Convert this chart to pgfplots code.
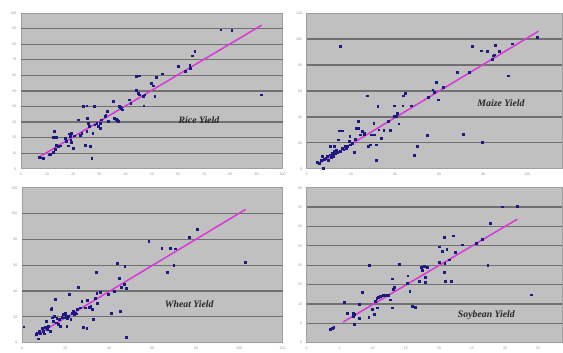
\documentclass[border=0pt]{standalone}
\usepackage{pgfplots}
\pgfplotsset{compat=1.18}
\usepackage{fontspec}
\setmainfont{Liberation Serif}
\newfontfamily\tickfont{Liberation Sans}
\definecolor{bgray}{HTML}{C0C0C0}
\definecolor{gridc}{HTML}{707070}
\definecolor{mk}{HTML}{1A1A80}
\definecolor{trend}{HTML}{D838D8}
\pgfplotsset{
  panel/.style={
    scale only axis, anchor=south west,
    axis background/.style={fill=bgray},
    axis line style={draw=gray!75, line width=0.9pt},
    major tick length=0pt,
    /pgf/number format/assume math mode=true,
    tick label style={font=\tickfont\fontsize{3.6}{4}\selectfont, text=gray!80},
    xticklabel style={yshift=-0.5pt},
    yticklabel style={xshift=-1pt},
    clip=false,
  },
  pts/.style={only marks, mark=square*, mark size=0.9pt, mark options={fill=mk, draw=mk}},
  tl/.style={draw=trend, line width=1.5pt, no marks},
}
\tikzset{lab/.style={font=\fontsize{9.8}{11}\selectfont\bfseries\itshape, text=black!85},
  gl/.style={draw=gridc, line width=1.3pt}}
\begin{document}
\begin{tikzpicture}[x=1pt,y=1pt]
\path (0,0) rectangle (563,349);
% Rice
\begin{axis}[panel, at={(21pt,180pt)}, width=262pt, height=156pt,
  xmin=0, xmax=100, ymin=0, ymax=100, xtick={0,10,...,100}, ytick={0,10,...,100}]
\pgfplotsinvokeforeach{10,20,30,40,50,60,70,80,90}{\draw[gl] (axis cs:0,#1) -- (axis cs:100,#1);}
\addplot[pts] coordinates {
(7.0,7.7) (7.9,7.1) (8.5,6.9) (10.8,9.0) (11.1,9.6) (12.3,10.5) (12.6,24.0) (12.3,20.3) (13.6,20.3)
(13.0,12.6) (13.4,15.4) (14.2,14.3) (14.9,14.8) (16.8,19.7) (17.4,17.6) (18.1,14.8) (18.5,22.5)
(18.7,20.8) (19.1,22.9) (19.0,18.6) (19.3,16.9) (20.0,13.3) (20.2,21.2) (21.9,31.5) (22.5,21.8)
(23.2,22.9) (23.8,40.0) (24.4,15.4) (25.1,40.5) (25.1,24.0) (25.3,32.5) (25.7,29.3) (26.1,27.2)
(26.3,14.3) (27.0,6.9) (27.4,22.9) (28.0,40.0) (28.2,28.3) (28.9,29.3) (29.5,27.2) (30.2,26.1)
(30.4,29.3) (30.8,31.5) (32.1,33.6) (32.4,34.7) (33.0,36.8) (33.3,30.4) (35.2,43.3) (35.5,32.5)
(36.3,31.9) (36.8,31.0) (37.2,30.4) (37.5,40.0) (38.0,39.6) (38.4,39.0) (38.8,37.9) (41.3,44.3)
(41.9,42.2) (43.9,59.3) (45.2,59.7) (44.1,50.7) (44.8,48.6) (45.2,47.5) (46.7,46.5) (46.9,40.5)
(47.3,47.5) (49.9,55.0) (50.5,53.3) (51.1,46.5) (51.8,58.9) (54.1,61.0) (60.1,65.7) (62.6,62.5)
(64.5,66.4) (64.8,64.7) (65.5,72.6) (66.4,75.4) (76.3,89.3) (80.5,88.9) (91.9,47.5)
};
\addplot[tl] coordinates {(7,7.6) (92,92.2)};
\node[lab] at (axis cs:68,31) {Rice Yield};
\end{axis}
% Maize
\begin{axis}[panel, at={(307pt,180pt)}, width=256pt, height=156pt,
  xmin=0, xmax=115.8, ymin=0, ymax=120, xtick={0,20,...,100}, ytick={0,20,...,120}]
\pgfplotsinvokeforeach{20,40,60,80,100}{\draw[gl] (axis cs:0,#1) -- (axis cs:115.8,#1);}
\addplot[pts] coordinates {
(4.8,5.1) (5.6,4.4) (6.6,6.9) (7.4,0.5) (7.1,9.5) (7.8,7.5) (8.6,8.2) (9.3,9.5) (9.6,6.9)
(10.5,10.8) (10.8,17.2) (11.1,9.0) (11.6,12.1) (12.0,10.0) (12.3,17.2) (12.6,13.4) (13.1,11.6)
(13.5,14.7) (13.8,12.6) (14.3,22.4) (14.6,29.3) (15.3,94.3) (15.3,13.4) (16.0,29.3) (16.0,15.9)
(16.8,14.7) (17.3,17.2) (18.0,15.9) (18.6,17.7) (19.1,21.1) (19.5,24.9) (19.8,18.5) (20.6,19.8)
(21.7,12.6) (22.1,22.9) (22.4,31.4) (23.3,36.5) (23.6,31.4) (24.4,26.2) (25.1,28.8) (25.9,26.2)
(26.2,27.5) (27.4,56.3) (27.7,17.2) (28.6,18.5) (29.2,26.2) (30.4,35.2) (30.7,26.2) (31.6,18.5)
(31.6,6.9) (32.2,48.1) (32.6,30.1) (33.7,23.7) (34.9,29.6) (37.1,36.5) (37.9,29.6) (39.4,40.4)
(39.8,48.6) (40.6,40.4) (40.9,42.9) (41.7,34.7) (43.6,56.3) (43.5,48.6) (44.7,58.4) (47.2,48.6)
(48.7,10.5) (49.9,17.2) (54.7,25.7) (55.2,55.0) (57.1,60.9) (57.7,58.9) (58.5,66.8) (59.5,53.2)
(61.9,63.0) (68.0,74.3) (71.0,26.7) (73.5,74.3) (75.0,94.3) (79.2,91.0) (79.4,20.3) (81.8,90.5)
(83.9,84.6) (84.5,87.1) (84.8,87.9) (85.3,94.9) (87.1,90.5) (91.3,71.7) (93.2,96.4) (104.5,101.3)
};
\addplot[tl] coordinates {(6,4.5) (105,106)};
\node[lab] at (axis cs:88,50.6) {Maize Yield};
\end{axis}
% Wheat
\begin{axis}[panel, at={(22pt,6pt)}, width=261pt, height=155pt,
  xmin=0, xmax=120, ymin=0, ymax=120, xtick={0,20,...,120}, ytick={0,20,...,120}]
\pgfplotsinvokeforeach{20,40,60,80,100}{\draw[gl] (axis cs:0,#1) -- (axis cs:120,#1);}
\addplot[pts] coordinates {
(0.8,12.3) (6.4,6.4) (6.9,7.7) (7.6,3.1) (8.1,9.0) (8.4,6.9) (9.2,11.1) (9.6,9.0) (10.2,6.9)
(10.7,12.1) (11.1,16.7) (11.5,10.3) (12.2,12.9) (13.0,9.0) (13.3,25.7) (13.7,26.5) (14.0,19.3)
(14.5,16.7) (14.8,20.6) (15.3,33.4) (15.7,15.4) (16.0,18.8) (16.8,14.1) (17.3,18.0) (17.6,12.9)
(18.3,19.8) (18.8,21.9) (19.4,19.3) (19.8,23.1) (20.3,20.6) (20.6,12.9) (20.9,18.8) (21.4,20.6)
(21.8,37.3) (22.4,18.0) (22.9,23.1) (23.4,24.4) (24.0,21.9) (24.4,23.1) (24.9,22.4) (25.5,25.7)
(26.0,42.9) (26.7,27.0) (27.5,32.1) (28.2,12.1) (29.0,27.0) (29.8,11.1) (30.1,32.6) (31.0,27.5)
(31.6,28.3) (32.5,25.7) (32.8,18.0) (33.6,34.7) (34.1,54.5) (34.4,38.6) (34.7,30.8) (35.9,39.1)
(39.7,37.8) (40.9,23.1) (42.3,39.8) (44.0,61.7) (44.7,50.1) (45.3,24.4) (45.8,42.9) (46.9,45.0)
(47.3,59.1) (47.8,3.9) (47.8,42.4) (58.3,78.9) (64.3,73.3) (67.0,54.5) (68.3,73.3) (69.8,59.9)
(70.7,72.8) (77.1,81.5) (80.5,87.9) (102.6,62.2)
};
\addplot[tl] coordinates {(6,5.1) (103,103.3)};
\node[lab] at (axis cs:77,29.6) {Wheat Yield};
\end{axis}
% Soybean
\begin{axis}[panel, at={(307pt,6pt)}, width=256pt, height=155pt,
  xmin=0, xmax=38.7, ymin=0, ymax=40, xtick={0,5,...,35}, ytick={0,5,...,40}]
\pgfplotsinvokeforeach{5,10,15,20,25,30,35}{\draw[gl] (axis cs:0,#1) -- (axis cs:38.7,#1);}
\addplot[pts] coordinates {
(3.6,3.4) (3.9,3.7) (4.1,3.9) (5.7,10.5) (6.1,7.6) (7.1,7.7) (7.2,7.3) (7.1,6.8) (7.2,4.7)
(7.9,10.0) (7.9,6.4) (8.4,13.1) (9.4,6.6) (9.5,20.1) (9.9,8.6) (10.2,7.4) (10.4,10.7) (10.6,11.4)
(10.7,9.0) (10.8,11.7) (11.1,11.9) (11.6,12.2) (11.9,12.2) (12.3,12.2) (12.6,11.1) (12.9,16.5)
(13.0,9.0) (13.1,13.7) (13.2,14.3) (14.0,20.3) (15.2,15.4) (15.3,15.2) (15.3,17.3) (15.6,13.3)
(16.0,9.4) (16.4,9.2) (17.0,15.8) (17.3,19.4) (17.5,18.7) (17.8,19.7) (17.9,15.7) (18.0,16.9)
(18.2,19.4) (20.1,24.8) (20.0,20.8) (20.5,23.7) (20.8,27.3) (20.8,18.2) (20.9,20.5) (21.0,15.8)
(21.2,24.2) (21.6,21.4) (21.9,15.8) (22.2,27.6) (22.5,23.4) (23.6,25.3) (25.7,25.7) (26.6,26.8)
(27.4,19.9) (27.8,30.8) (29.6,35.1) (31.9,35.3) (34.0,12.4)
};
\addplot[tl] coordinates {(5.5,5.3) (31.9,31.9)};
\node[lab] at (axis cs:27.2,7.1) {Soybean Yield};
\end{axis}
\end{tikzpicture}
\end{document}
